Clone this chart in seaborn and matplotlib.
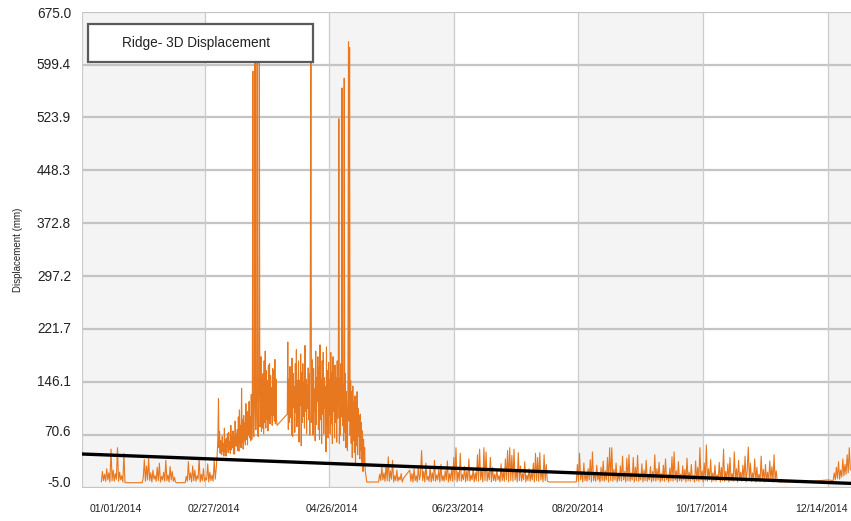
import numpy as np
import pandas as pd
import matplotlib
matplotlib.use("Agg")
import matplotlib.pyplot as plt
import seaborn as sns
from matplotlib.patches import Rectangle
from matplotlib.transforms import ScaledTranslation

# ---------------- data ----------------
origin = pd.Timestamp("2014-01-01")

# segment start (days after 01/01/2014) and sampling step (days)
seg_a_start, seg_a_step = 9.0, 0.5
seg_a_vals = [3, 18, 5, 14, 4, 22, 6, 16, 3, 50, 5, 20, 4, 15, 7, 52, 4, 17, 6, 12, 3, 44, 2]

seg_b_start, seg_b_step = 28.0, 0.5
seg_b_vals = [2, 9, 35, 4, 26, 6, 37, 5, 16, 3, 20, 7, 12, 4, 24, 5, 30, 3, 11, 6, 17, 4, 34,
              5, 13, 3, 25, 6, 18, 4, 10, 3, 2]

seg_c_start, seg_c_step = 48.0, 0.5
seg_c_vals = [2, 11, 4, 32, 6, 16, 3, 26, 5, 20, 4, 12, 7, 37, 3, 14, 5, 22, 4, 9, 6, 29, 3,
              17, 5, 13, 4, 34, 7, 24]

seg_d_start, seg_d_step = 63.0, 0.25
seg_d_vals = [48, 70, 122, 52, 75, 44, 62, 50,
              42, 68, 47, 58, 40, 80, 46, 64,
              40, 66, 52, 72, 45, 74, 50, 61,
              44, 84, 49, 70, 52, 76, 43, 68,
              43, 90, 55, 72, 54, 78, 48, 96,
              47, 106, 58, 84, 52, 137, 60, 92,
              50, 98, 62, 88, 56, 115, 64, 104,
              56, 102, 70, 118, 66, 96, 62, 128,
              64, 110, 590, 72, 68, 120, 645, 78,
              78, 132, 650, 70, 68, 140, 640, 82,
              84, 182, 75, 150, 80, 158, 72, 176,
              88, 190, 80, 162, 92, 148, 76, 170,
              92, 172, 86, 155, 98, 138, 84, 165,
              98, 162, 90, 178, 86, 150, 92, 84]

seg_e_start, seg_e_step = 95.5, 0.25
seg_e_vals = [100, 203, 78, 150, 88, 168, 95, 132,
              70, 180, 68, 158, 110, 140, 74, 172,
              102, 192, 82, 148, 95, 176, 60, 148,
              112, 186, 55, 160, 88, 172, 97, 145,
              80, 198, 104, 150, 72, 142, 108, 166,
              92, 158, 70, 306, 645, 88, 178, 110,
              70, 165, 105, 136, 62, 190, 85, 152,
              118, 182, 78, 168, 64, 199, 92, 150,
              58, 176, 100, 188, 72, 152, 108, 140,
              46, 196, 84, 162, 66, 174, 98, 150,
              72, 188, 86, 160, 58, 182, 104, 146,
              66, 170, 88, 152, 60, 176, 94, 142,
              522, 58, 150, 70, 172, 96, 566, 84,
              140, 62, 580, 74, 158, 52, 132, 80,
              48, 150, 632, 90, 624, 70, 148, 58,
              132, 38, 140, 62, 118, 45, 126, 30,
              118, 55, 132, 42, 108, 68, 98, 36,
              100, 48, 88, 26, 76, 18, 64, 30,
              52, 20]

flat_1_start, flat_1_step = 132.5, 5.0
flat_1_vals = [3, 3]

seg_f_start, seg_f_step = 138.0, 0.5
seg_f_vals = [3, 14, 5, 24, 6, 16, 4, 28, 5, 39, 4, 19, 7, 34, 3, 12, 5, 20, 4, 10, 6, 15, 3, 8]

seg_g_start, seg_g_step = 152.5, 0.5
seg_g_vals = [20, 4, 15, 3, 22, 5, 12, 3, 26, 6,
              14, 48, 5, 18, 3, 30, 6, 11, 4, 24,
              3, 16, 5, 34, 4, 13, 6, 21, 3, 28,
              5, 12, 4, 19, 6, 33, 3, 15, 5, 23,
              4, 38, 6, 52, 3, 17, 5, 44, 4, 14,
              6, 25, 3, 18, 5, 36, 4, 13, 6, 22,
              3, 16, 5, 42, 4, 50, 6, 20, 3, 52,
              5, 46, 4, 17, 6, 38, 3, 24, 5, 14,
              4, 21, 6, 12, 3, 29, 5, 18, 4, 36,
              6, 48, 3, 52, 5, 41, 4, 50, 6, 19,
              3, 45, 5, 26, 4, 15, 6, 32, 3, 13,
              5, 22, 4, 17, 6, 30, 3, 44, 5, 38,
              4, 45, 6, 20, 3, 42, 5, 28, 4]

flat_2_start, flat_2_step = 217.5, 12.5
flat_2_vals = [3, 3]

seg_h_start, seg_h_step = 230.5, 0.5
seg_h_vals = [28, 4, 44, 6, 18, 3, 30, 5, 14, 4,
              22, 6, 35, 3, 46, 5, 16, 4, 27, 6,
              13, 3, 24, 5, 33, 4, 19, 6, 38, 3,
              52, 5, 52, 4, 21, 6, 30, 3, 15, 5,
              26, 4, 40, 6, 18, 3, 37, 5, 42, 4,
              16, 6, 38, 3, 24, 5, 41, 4, 14, 6,
              29, 3, 20, 5, 34, 4, 12, 6, 25, 3,
              18, 5, 42, 4, 22, 6, 31, 3, 15, 5,
              27, 4, 36, 6, 13, 3, 23, 5, 39, 4,
              46, 6, 19, 3, 32, 5, 14, 4, 26, 6,
              21, 3, 37, 5, 17, 4, 28, 6, 12, 3,
              33, 5, 24, 4, 52, 6, 19, 3, 30, 5,
              56, 4, 22, 6, 35, 3, 16, 5, 27, 4,
              13, 6, 31, 3, 24, 5, 50, 4, 18, 6,
              29, 3, 38, 5, 15, 4, 46, 6, 22, 3,
              34, 5, 17, 4, 27, 6, 40, 3, 20, 53,
              5, 30, 4, 16, 6, 36, 3, 24, 5, 14,
              4, 40, 6, 21, 3, 28, 5, 17, 4, 33,
              6, 25, 3, 42, 5, 19, 4]

flat_3_days = [324.5, 340.0, 347.0]
flat_3_vals = [3, 4, 6]

seg_i_start, seg_i_step = 349.5, 0.5
seg_i_vals = [5, 16, 6, 24, 8, 32, 7, 20, 10, 36, 12, 28, 14, 42, 16, 52, 20]

# trend line (end points)
trend_days = [0.0, 357.8]
trend_vals = [43.0, 1.0]

# axis ticks
y_ticks = [-5.0, 70.6, 146.1, 221.7, 297.2, 372.8, 448.3, 523.9, 599.4, 675.0]
x_tick_labels = ["01/01/2014", "02/27/2014", "04/26/2014", "06/23/2014",
                 "08/20/2014", "10/17/2014", "12/14/2014"]
x_end_day = 357.8
title_text = "Ridge- 3D Displacement"
y_label = "Displacement (mm)"

# ---------------- build table ----------------
segments = [
    (seg_a_start, seg_a_step, seg_a_vals),
    (seg_b_start, seg_b_step, seg_b_vals),
    (seg_c_start, seg_c_step, seg_c_vals),
    (seg_d_start, seg_d_step, seg_d_vals),
    (seg_e_start, seg_e_step, seg_e_vals),
    (flat_1_start, flat_1_step, flat_1_vals),
    (seg_f_start, seg_f_step, seg_f_vals),
    (seg_g_start, seg_g_step, seg_g_vals),
    (flat_2_start, flat_2_step, flat_2_vals),
    (seg_h_start, seg_h_step, seg_h_vals),
]
days, vals = [], []
for start, step, v in segments:
    days += [start + i * step for i in range(len(v))]
    vals += list(v)
days += flat_3_days
vals += flat_3_vals
days += [seg_i_start + i * seg_i_step for i in range(len(seg_i_vals))]
vals += seg_i_vals

df = pd.DataFrame({"date": origin + pd.to_timedelta(days, unit="D"), "disp": vals})
trend_df = pd.DataFrame({"date": origin + pd.to_timedelta(trend_days, unit="D"), "disp": trend_vals})
tick_dates = [pd.Timestamp(pd.to_datetime(s, format="%m/%d/%Y")) for s in x_tick_labels]

# ---------------- plot ----------------
sns.set_theme(style="white")
plt.rcParams["font.family"] = ["Liberation Sans", "DejaVu Sans"]

fig = plt.figure(figsize=(8.51, 5.21), dpi=100)
ax = fig.add_axes([82 / 851, 1 - 487.6 / 521, 769 / 851, (487.6 - 11.7) / 521])

x_end = origin + pd.Timedelta(days=x_end_day)

# alternating bands
band_edges = tick_dates + [x_end]
for i in range(0, len(band_edges) - 1, 2):
    ax.axvspan(band_edges[i], band_edges[i + 1], color="#f4f4f4", zorder=0, lw=0)

sns.lineplot(data=df, x="date", y="disp", ax=ax, color="#e8781f", lw=0.8,
             estimator=None, sort=False, zorder=3)
sns.lineplot(data=trend_df, x="date", y="disp", ax=ax, color="black", lw=2.4,
             estimator=None, zorder=4)

ax.set_xlim(origin, x_end)
ax.set_ylim(y_ticks[0], y_ticks[-1])
ax.set_yticks(y_ticks)
ax.set_yticklabels([f"{t:.1f}" for t in y_ticks], fontsize=9.8, color="#222222")
ax.set_xticks(tick_dates)
ax.set_xticklabels(x_tick_labels, fontsize=7.6, color="#222222")
ax.tick_params(axis="y", length=0, pad=8)
ax.tick_params(axis="x", length=0, pad=12)

# nudge labels to match the reference placement
x_offsets = [34, 9.5, 3, 4.5, -1, -2, -6]
for lab, dx in zip(ax.get_xticklabels(), x_offsets):
    lab.set_transform(lab.get_transform() + ScaledTranslation(dx / 100, 0, fig.dpi_scale_trans))
y_offsets = [6.5, 4.5, 1.5, 1, 1, 0.5, 1, 0.5, 1, -0.5]
for lab, dy in zip(ax.get_yticklabels(), y_offsets):
    lab.set_transform(lab.get_transform() + ScaledTranslation(0, dy / 100, fig.dpi_scale_trans))

ax.set_xlabel("")
ax.set_ylabel(y_label, fontsize=7, color="#222222", labelpad=0)
ax.yaxis.set_label_coords(-(82 - 23) / 769, 0.5)

# grid
for t in y_ticks:
    ax.axhline(t, color="#c4c4c4", lw=1.6, zorder=1)
for d in tick_dates:
    ax.axvline(d, color="#cccccc", lw=0.9, zorder=1)
for s in ax.spines.values():
    s.set_visible(False)
ax.grid(False)

# title box
ax.add_patch(Rectangle((6 / 769, 1 - (62 - 11.7) / 475.9), (313 - 88) / 769, 38 / 475.9,
                       transform=ax.transAxes, facecolor="white", edgecolor="#5a5a5a",
                       lw=1.6, zorder=6))
ax.text((196 - 82) / 769, 1 - (43 - 11.7) / 475.9, title_text, transform=ax.transAxes,
        ha="center", va="center", fontsize=9.8, color="#222222", zorder=7)

fig.savefig("out.png", dpi=100)
